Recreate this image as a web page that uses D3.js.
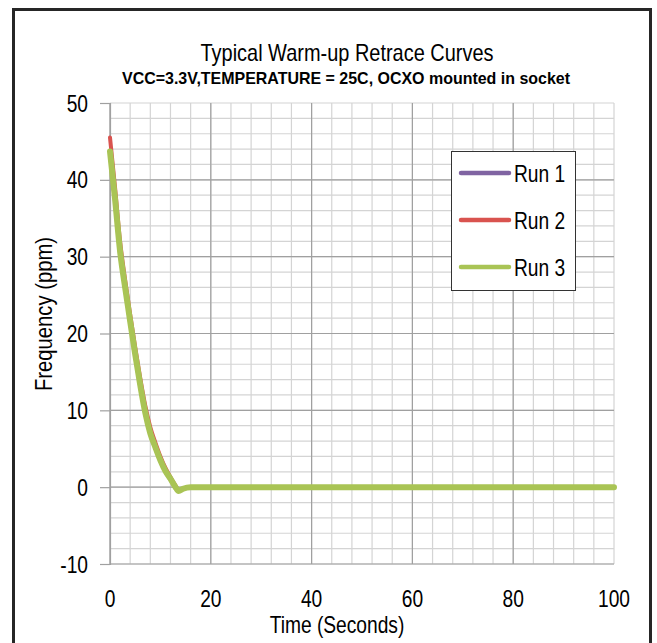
<!DOCTYPE html>
<html>
<head>
<meta charset="utf-8">
<script src="https://cdn.jsdelivr.net/npm/d3@7"></script>
<style>
  body { margin: 0; background: #fff; }
  text { font-family: "Liberation Sans", Arial, sans-serif; fill: #000; }
</style>
</head>
<body>
<svg id="chart" width="657" height="643"></svg>
<script>
"use strict";

// time axis in seconds, shared by all runs
const times = [0, 1, 2, 3, 4, 5, 6, 7, 8, 9, 10, 11, 12, 13, 13.6, 14.5, 16, 20, 30, 40, 50, 60, 70, 80, 90, 100];
const run1 = [43.4, 37.2, 30.4, 25.8, 21.4, 17.1, 13.1, 9.6, 6.9, 5.1, 3.4, 2.0, 1.0, -0.1, -0.5, -0.2, 0, 0, 0, 0, 0, 0, 0, 0, 0, 0];
const run2 = [45.5, 39.0, 32.0, 27.0, 22.5, 18.2, 14.2, 10.6, 7.8, 5.8, 4.0, 2.5, 1.3, 0.2, -0.4, -0.2, 0, 0, 0, 0, 0, 0, 0, 0, 0, 0];
const run3 = [43.7, 37.5, 30.7, 26.0, 21.6, 17.3, 13.3, 9.7, 7.0, 5.2, 3.5, 2.1, 1.1, 0.0, -0.5, -0.2, 0, 0, 0, 0, 0, 0, 0, 0, 0, 0];
const runNames = ["Run 1", "Run 2", "Run 3"];
const runColors = ["#8064a2", "#d9534f", "#a9c455"];
const xTicks = [0, 20, 40, 60, 80, 100];
const yTicks = [-10, 0, 10, 20, 30, 40, 50];

const svg = d3.select("#chart");
const x = d3.scaleLinear().domain([0, 100]).range([110, 614]);
const y = d3.scaleLinear().domain([-10, 50]).range([564, 103]);
const squeeze = 0.8; // the original fonts are narrow

// narrow text: place at (px,py) and squeeze horizontally
function narrowText(sel, px, py, size, anchor){
  return sel.append("text")
    .attr("transform", `translate(${px},${py}) scale(${squeeze},1)`)
    .attr("text-anchor", anchor || "start").attr("font-size", size);
}

// outer frame (bottom edge runs off the picture)
svg.append("path")
  .attr("d", "M13.5,643 V9.5 H650.5 V643")
  .attr("fill", "none").attr("stroke", "#262626").attr("stroke-width", 3);

// titles
svg.append("text").attr("x", 347).attr("y", 61).attr("text-anchor", "middle")
  .attr("font-size", 24).attr("textLength", 293).attr("lengthAdjust", "spacingAndGlyphs")
  .text("Typical Warm-up Retrace Curves");
svg.append("text").attr("x", 346).attr("y", 84).attr("text-anchor", "middle")
  .attr("font-size", 17).attr("font-weight", "bold")
  .attr("textLength", 448).attr("lengthAdjust", "spacingAndGlyphs")
  .text("VCC=3.3V,TEMPERATURE = 25C, OCXO mounted in socket");

// grid: minor lines every 4 s / 2 ppm, major every 20 s / 10 ppm
const grid = svg.append("g");
grid.selectAll(".vminor").data(d3.range(0, 101, 4)).join("line")
  .attr("x1", d => x(d)).attr("x2", d => x(d)).attr("y1", y(50)).attr("y2", y(-10))
  .attr("stroke", "#d4d4d4").attr("stroke-width", 1.2);
grid.selectAll(".hminor").data(d3.range(-10, 51, 2)).join("line")
  .attr("x1", x(0)).attr("x2", x(100)).attr("y1", d => y(d)).attr("y2", d => y(d))
  .attr("stroke", "#d4d4d4").attr("stroke-width", 1.2);
grid.selectAll(".vmajor").data(xTicks.slice(0, -1)).join("line")
  .attr("x1", d => x(d)).attr("x2", d => x(d)).attr("y1", y(50)).attr("y2", y(-10))
  .attr("stroke", "#a0a0a0").attr("stroke-width", 1.2);
grid.selectAll(".hmajor").data(yTicks.slice(0, -1)).join("line")
  .attr("x1", x(0)).attr("x2", x(100)).attr("y1", d => y(d)).attr("y2", d => y(d))
  .attr("stroke", "#a0a0a0").attr("stroke-width", 1.2);

// y axis: outward ticks, labels drawn narrow below
const yAxis = svg.append("g").attr("transform", `translate(${x(0)},0)`)
  .call(d3.axisLeft(y).tickValues(yTicks).tickSize(10).tickFormat(""));
yAxis.select(".domain").attr("stroke", "#a0a0a0").attr("stroke-width", 1.2);
yAxis.selectAll(".tick line").attr("stroke", "#a0a0a0").attr("stroke-width", 1.2);
yTicks.forEach(v => narrowText(svg, 88, y(v) + 8.5, 24, "end").text(String(v)));
xTicks.forEach(v => narrowText(svg, x(v), 607, 24, "middle").text(String(v)));

// axis titles
narrowText(svg, 337, 633, 24, "middle").text("Time (Seconds)");
svg.append("text").attr("transform", "translate(52,314) rotate(-90)").attr("text-anchor", "middle")
  .attr("font-size", 24).attr("textLength", 154).attr("lengthAdjust", "spacingAndGlyphs")
  .text("Frequency (ppm)");

// series
const runs = [run1, run2, run3];
const widths = [4, 4, 6];
const line = d3.line().x((d, i) => x(times[i])).y(d => y(d)).curve(d3.curveMonotoneX);
svg.append("g").selectAll("path").data(runs).join("path")
  .attr("d", line).attr("fill", "none")
  .attr("stroke", (d, i) => runColors[i]).attr("stroke-width", (d, i) => widths[i])
  .attr("stroke-linejoin", "round").attr("stroke-linecap", "round");

// legend
const legend = svg.append("g");
legend.append("rect").attr("x", 451.5).attr("y", 151.5).attr("width", 124).attr("height", 139)
  .attr("fill", "#fff").attr("stroke", "#333").attr("stroke-width", 1);
runNames.forEach((name, i) => {
  const ly = 173 + i * 47;
  legend.append("line").attr("x1", 461).attr("x2", 509).attr("y1", ly).attr("y2", ly)
    .attr("stroke", runColors[i]).attr("stroke-width", 4.5).attr("stroke-linecap", "round");
  narrowText(legend, 514, ly + 8.5, 24).text(name);
});
</script>
</body>
</html>
